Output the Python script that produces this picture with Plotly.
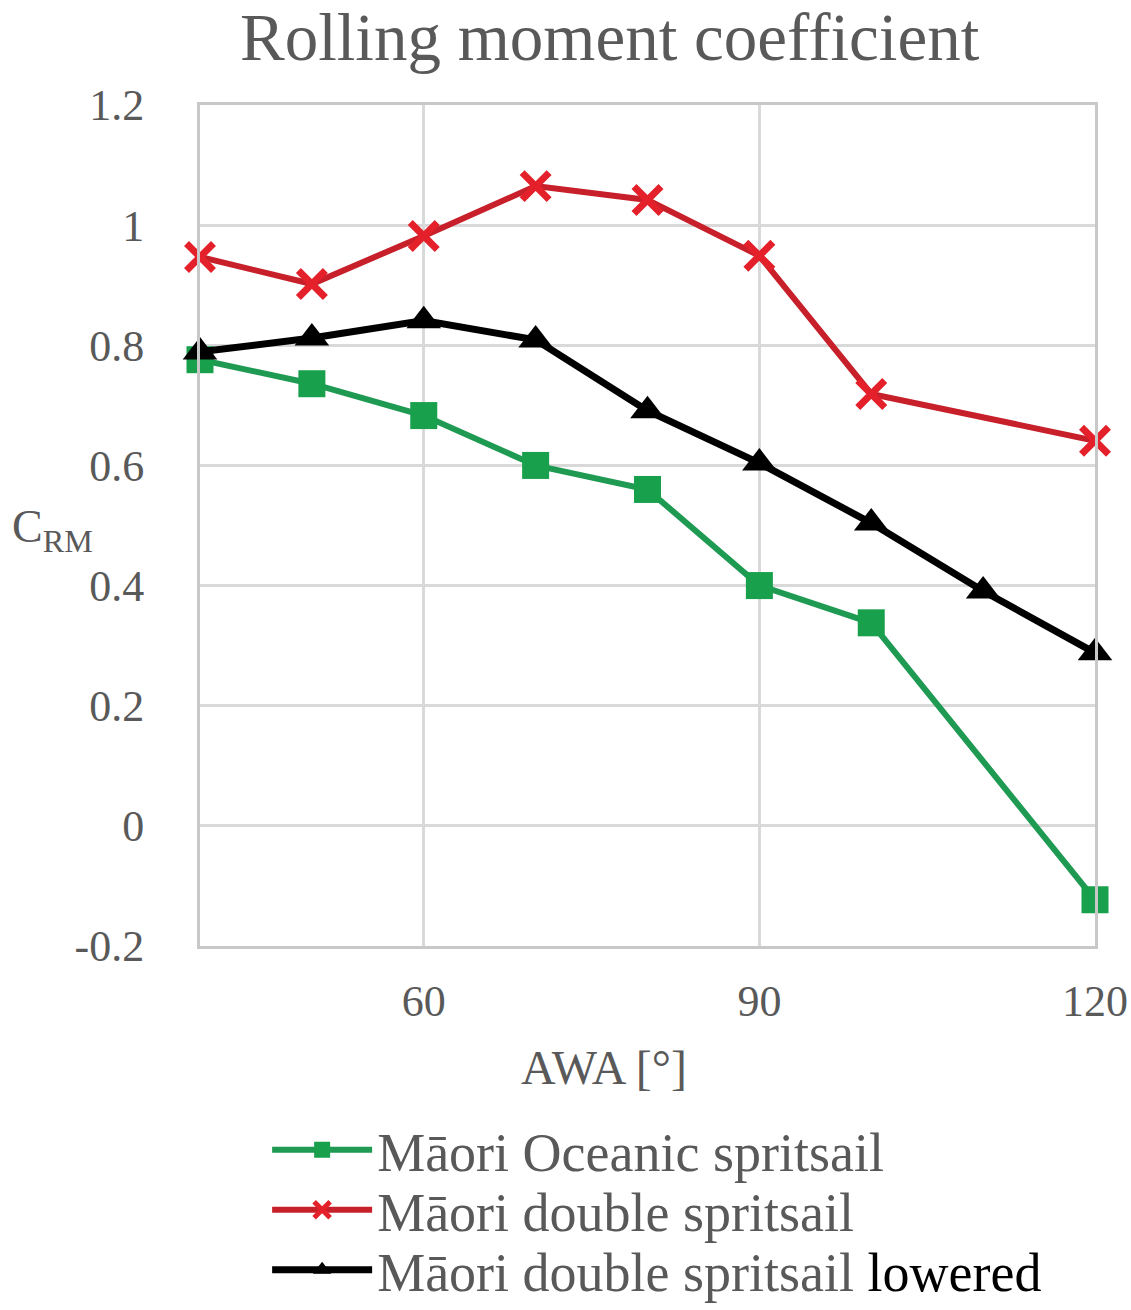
import plotly.graph_objects as go

# Data
awa_oceanic = [40, 50, 60, 70, 80, 90, 100, 120]
crm_oceanic = [0.776, 0.736, 0.683, 0.600, 0.560, 0.400, 0.338, -0.123]

awa_double = [40, 50, 60, 70, 80, 90, 100, 120]
crm_double = [0.947, 0.902, 0.982, 1.065, 1.042, 0.949, 0.719, 0.641]

awa_lowered = [40, 50, 60, 70, 80, 90, 100, 110, 120]
crm_lowered = [0.789, 0.812, 0.841, 0.809, 0.691, 0.604, 0.504, 0.391, 0.288]

x_tickvals = [60, 90, 120]
x_ticktext = ["60", "90", "120"]
y_tickvals = [-0.2, 0, 0.2, 0.4, 0.6, 0.8, 1.0, 1.2]
y_ticktext = ["-0.2", "0", "0.2", "0.4", "0.6", "0.8", "1", "1.2"]

FONT = "Liberation Serif"
GRAY = "#595959"

fig = go.Figure()
fig.add_trace(go.Scatter(
    x=awa_oceanic, y=crm_oceanic, mode="lines+markers",
    name="Māori Oceanic spritsail", legend="legend", cliponaxis=False,
    line=dict(color="#1f9a52", width=6),
    marker=dict(symbol="square", size=27, color="#18a04c"),
))
fig.add_trace(go.Scatter(
    x=awa_double, y=crm_double, mode="lines+markers",
    name="Māori double spritsail", legend="legend2", cliponaxis=False,
    line=dict(color="#c8202a", width=6),
    marker=dict(symbol="x-thin", size=27, color="#e4202a",
                line=dict(width=7, color="#e4202a")),
))
fig.add_trace(go.Scatter(
    x=awa_lowered, y=crm_lowered, mode="lines+markers",
    name="Māori double spritsail <span style='color:black'>lowered</span>",
    legend="legend3", cliponaxis=False,
    line=dict(color="black", width=7),
    marker=dict(symbol="triangle-up", size=30, color="black"),
))

legend_common = dict(x=0.075, xanchor="left", yanchor="middle",
                     orientation="v", font=dict(size=54, color=GRAY, family=FONT),
                     itemwidth=100, bgcolor="rgba(0,0,0,0)")

fig.update_layout(
    width=1131, height=1310,
    margin=dict(l=200, r=36, t=105, b=364, autoexpand=False),
    paper_bgcolor="white", plot_bgcolor="white",
    font=dict(family=FONT, color=GRAY),
    title=dict(text="Rolling moment coefficient", x=0.539, xref="container",
               xanchor="center", y=0.972, yref="container", yanchor="middle",
               font=dict(size=67, color=GRAY, family=FONT)),
    showlegend=True,
    legend=dict(y=-0.2426, **legend_common),
    legend2=dict(y=-0.3140, **legend_common),
    legend3=dict(y=-0.3853, **legend_common),
    annotations=[
        dict(text="C<sub>RM</sub>", x=-0.212, y=0.495, xref="paper", yref="paper",
             xanchor="left", yanchor="middle", showarrow=False,
             font=dict(size=46, color=GRAY, family=FONT)),
        dict(text="AWA [°]", x=0.451, y=-0.145, xref="paper", yref="paper",
             xanchor="center", yanchor="middle", showarrow=False,
             font=dict(size=48, color=GRAY, family=FONT)),
    ],
)

fig.update_xaxes(
    range=[40, 120], tickvals=x_tickvals, ticktext=x_ticktext,
    showgrid=True, gridcolor="#d9d9d9", gridwidth=3,
    showline=True, linecolor="#c8c8c8", linewidth=3, mirror=True,
    zeroline=False, ticks="", ticklabelstandoff=14,
    tickfont=dict(size=44, color=GRAY, family=FONT),
)
fig.update_yaxes(
    range=[-0.2, 1.2], tickvals=y_tickvals, ticktext=y_ticktext,
    showgrid=True, gridcolor="#d9d9d9", gridwidth=3,
    showline=True, linecolor="#c8c8c8", linewidth=3, mirror=True,
    zeroline=False, ticks="", ticklabelstandoff=44,
    tickfont=dict(size=44, color=GRAY, family=FONT),
)

fig.write_html("out.html")
